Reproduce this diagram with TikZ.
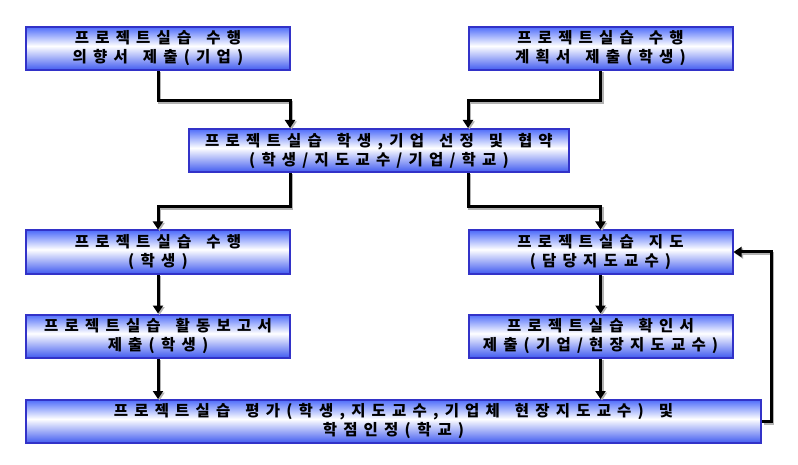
\documentclass[tikz,border=0pt]{standalone}
\usepackage{fontspec}
\newfontfamily\kr{Noto Sans CJK KR}[LetterSpace=40]
\usetikzlibrary{arrows.meta}
\definecolor{btop}{RGB}{80,110,250}
\definecolor{bbot}{RGB}{66,92,240}
\definecolor{bdr}{RGB}{50,50,200}
\newcommand{\gp}{\hspace{15pt}}
\pgfdeclareverticalshading{boxshade}{100bp}{color(0bp)=(bbot); color(25bp)=(bbot); color(53bp)=(white); color(75bp)=(btop); color(100bp)=(btop)}
\tikzset{
  box/.style={draw=bdr, line width=2pt, shading=boxshade, minimum width=264pt,
    minimum height=43pt, inner sep=0pt, align=center,
    font=\kr\bfseries\fontsize{15.5}{19}\selectfont},
  conn/.style={line width=3pt, -{Triangle[width=10pt,length=8pt]},
    preaction={draw=gray!60, line width=3pt, transform canvas={shift={(1.5pt,-1.5pt)}}}}
}
\begin{document}
\begin{tikzpicture}[x=1pt,y=-1pt]
\fill[white] (0,0) rectangle (798,465);
\useasboundingbox (0,0) rectangle (798,465);
\node[box] (b1) at (158,48.5) {프로젝트실습\gp 수행\\의향서\gp 제출(기업)};
\node[box] (b2) at (600.5,48.5) {프로젝트실습\gp 수행\\계획서\gp 제출(학생)};
\node[box, minimum width=380pt] (b3) at (379,150.5) {프로젝트실습\gp 학생,기업\gp 선정\gp 및\gp 협약\\(학생/지도교수/기업/학교)};
\node[box] (b4) at (158,252) {프로젝트실습\gp 수행\\(학생)};
\node[box] (b5) at (600.5,252) {프로젝트실습\gp 지도\\(담당지도교수)};
\node[box] (b6) at (158,336) {프로젝트실습\gp 활동보고서\\제출(학생)};
\node[box] (b7) at (600.5,336) {프로젝트실습\gp 확인서\\제출(기업/현장지도교수)};
\node[box, minimum width=735pt] (b8) at (393.5,421.5) {프로젝트실습\gp 평가(학생,지도교수,기업체\gp 현장지도교수)\gp 및\\학점인정(학교)};
\draw[conn] (b1.south) -- ++(0,30) -| ([xshift=102pt]b3.north west);
\draw[conn] (b2.south) -- ++(0,30) -| ([xshift=280pt]b3.north west);
\draw[conn] ([xshift=102pt]b3.south west) -- ++(0,34) -| (b4.north);
\draw[conn] ([xshift=280pt]b3.south west) -- ++(0,34) -| (b5.north);
\draw[conn] (b4.south) -- (b6.north);
\draw[conn] (b5.south) -- (b7.north);
\draw[conn] (b6.south) -- (b6.south |- b8.north);
\draw[conn] (b7.south) -- (b7.south |- b8.north);
\draw[conn] (b8.east) -- ++(9,0) |- (b5.east);
\end{tikzpicture}
\end{document}
